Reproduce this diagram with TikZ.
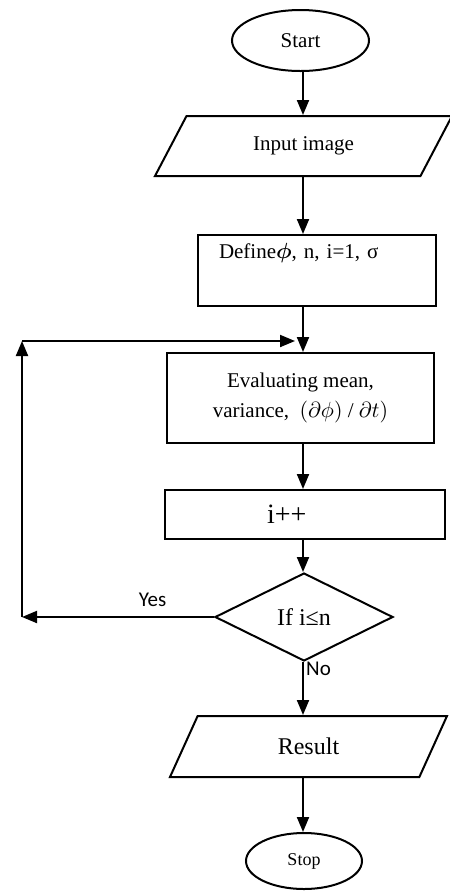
\documentclass[tikz,border=0pt]{standalone}
\usepackage{amsmath,amssymb}
\usepackage{fontspec}
\setmainfont{Liberation Serif}
\newfontfamily\labelfont{Carlito}
\usetikzlibrary{positioning,arrows.meta,shapes.geometric,calc}

\begin{document}
\begin{tikzpicture}[x=0.5pt,y=-0.5pt,
  flow/.style={draw=black,line width=1pt,inner sep=2pt},
  term/.style={flow,ellipse},
  io/.style={flow,trapezium,trapezium stretches body},
  proc/.style={flow,rectangle},
  decide/.style={flow,diamond,aspect=2},
  arr/.style={-{Triangle[length=7.5pt,width=6pt]},line width=1pt},
  lbl/.style={font=\labelfont\fontsize{10.5}{12}\selectfont}]
\useasboundingbox (0,0) rectangle (450,891);
% Main column
\coordinate (col) at (303,0);
\node[term,minimum width=68.5pt,minimum height=30.5pt,font=\fontsize{10.5}{12}\selectfont] (start) at (300.5,40.5) {Start};
\node[io,trapezium left angle=40,trapezium right angle=140,minimum width=148.5pt,minimum height=30pt,font=\fontsize{10.5}{12}\selectfont] (input) at (303.5,146) {Input image};
\node[proc,anchor=north west,minimum width=119pt,minimum height=35.5pt,text width=98pt,align=left,inner xsep=10.5pt,inner ysep=0pt,text height=11.5pt,text depth=24pt,font=\fontsize{10.5}{12}\selectfont] (define) at (197,234) {Define$\boldsymbol{\phi}$, n, i=1, σ};
\node[proc,minimum width=133.5pt,minimum height=45pt,align=center,font=\fontsize{10.5}{15}\selectfont] (eval) at (300.5,398) {Evaluating mean,\\variance, \ $(\partial\phi)$ / $\partial t)$};
\node[proc,minimum width=140pt,minimum height=24.5pt,text width=38pt,align=left,inner xsep=51pt,font=\fontsize{14}{16}\selectfont] (ipp) at (305,514.5) {i++};
\node[decide,minimum width=89pt,minimum height=44pt,font=\fontsize{12}{14}\selectfont] (check) at (304,617) {If i≤n};
\node[io,trapezium left angle=42,trapezium right angle=138,minimum width=138.5pt,minimum height=30.5pt,font=\fontsize{12}{14}\selectfont] (result) at (308.5,746.5) {Result};
\node[term,minimum width=58pt,minimum height=28pt,font=\fontsize{9}{11}\selectfont] (stop) at (304,861) {Stop};
% Downward connectors
\foreach \a/\b in {start/input,input/define,define/eval,eval/ipp,ipp/check,check/result,result/stop}
  \draw[arr] (\a.south -| col) -- (\b.north -| col);
% Loop back (Yes branch)
\coordinate (corner) at (22,341);
\coordinate (entry) at (295,341);
\draw[arr] (check.west) -- (check.west -| corner);
\draw[arr] (check.west -| corner) -- (corner);
\draw[arr] (corner) -- (entry);
\node[lbl] (yes) at (152.5,600) {Yes};
\node[lbl] (no) at (318.5,669) {No};
\end{tikzpicture}
\end{document}
